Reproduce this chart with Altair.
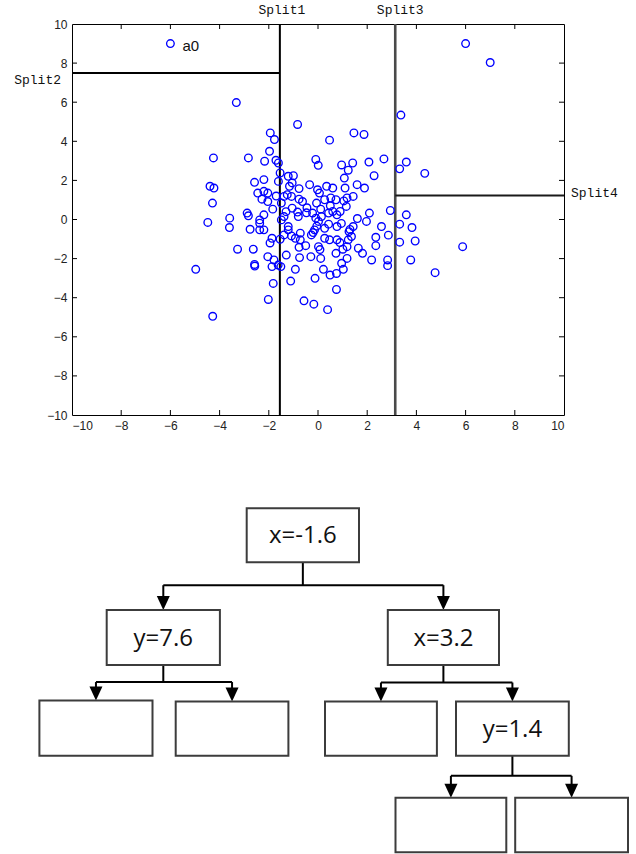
import altair as alt
import pandas as pd

# ---------------- scatter data ----------------
PX = [-6.0, 6.0, 7.0, -3.32, -0.83, 3.37, -1.94, -1.77, 0.47, 1.46, 1.87, -1.97, -4.25, -2.83,
      -2.17, -1.71, -1.61, -0.09, 0.01, 0.96, 1.41, 2.07, 2.68, 3.59, 3.32, 4.34, 2.28, 1.23,
      1.07, -4.39, -4.23, -4.29, -4.48, -3.59, -3.60, -2.88, -2.83, -2.76, -3.27, -2.63, -2.58,
      -2.57, -4.97, -4.28, -2.02, -1.82, -1.11, -0.57, -0.17, 0.39, -0.12, 0.49, 0.75, 0.75,
      1.03, 0.22, -0.92, 0.96, 0.73, 1.18, -0.29, 0.11, -0.75, -1.29, -2.04, -1.79, -1.62,
      -1.87, -1.51, 2.18, 2.83, 2.83, 3.77, 4.76, 5.88, 3.32, 3.95, 3.82, 3.32, 3.59, 2.94,
      2.86, 2.58, 2.35, 2.35, 2.09, 1.97, 1.81, 1.64, 1.43, 1.26, 1.36, 1.23, 1.18, 1.01,
      1.89, 1.59, 1.43, 1.15, 1.18, 1.10, 0.60, 0.35, -0.02, 0.06, -0.34, -0.77, -0.77, -1.00,
      -1.21, -1.16, -1.05, -1.54, -1.61, -2.20, -2.58, -2.45, -2.20, -2.04, -2.28, -2.04,
      -1.84, -1.49, -1.38, -1.25, -1.08, -1.05, -0.83, -0.63, -0.80, -1.38, -1.49, -2.37,
      -2.37, -2.20, -2.37, -2.20, -1.21, -1.21, -1.87, -1.54, -1.38, -1.08, -0.92, -0.72,
      -0.72, -0.77, -0.27, -0.14, -0.22, -0.09, 0.02, 0.11, 0.14, -0.06, 0.27, 0.52, 0.73,
      0.43, 0.60, 0.77, 0.90, 0.27, 0.43, 0.77, 0.27, 0.47, 0.77, 0.02, -0.50, -0.47, 1.30,
      -0.05, -0.20, 0.89, 0.08, -1.70, -1.30, 0.95, 1.60, -0.45, 0.50, -1.95, 1.05]
PY = [9.0, 9.0, 8.03, 5.98, 4.86, 5.34, 4.43, 4.09, 4.06, 4.43, 4.35, 3.49, 3.15, 3.15,
      2.98, 3.03, 2.89, 3.07, 2.77, 2.79, 2.89, 2.94, 3.10, 2.94, 2.59, 2.36, 2.24, 2.52,
      2.12, 1.70, 1.61, 0.84, -0.15, 0.07, -0.41, 0.33, 0.19, -0.50, -1.52, -1.52, -2.30,
      -2.38, -2.55, -4.95, -4.09, -3.27, -3.15, -4.16, -4.33, -4.61, -3.01, -2.84, -3.58, -2.76,
      -2.55, -2.55, -2.55, -2.24, -1.73, -1.99, -1.90, -1.99, -1.95, -1.82, -1.90, -2.07, -2.33,
      -2.41, -2.41, -2.07, -2.07, -2.36, -2.07, -2.72, -1.39, -1.16, -1.10, -0.41, -0.24, 0.24, 0.46,
      -0.80, -0.36, -0.91, -1.34, 0.33, -0.10, -1.73, -1.47, -0.36, -0.62, -0.87, -1.04, -1.39, -1.52,
      1.61, 1.78, 1.18, 0.67, 1.10, 1.61, 1.61, 1.70, 1.52, 1.35, 1.78, 1.58, 1.04, 2.24,
      2.21, 1.70, 1.87, 2.38, 1.95, 2.04, 1.90, 1.35, 1.44, 1.35, 1.04, 0.92,
      0.53, 0.84, 1.18, 1.27, 1.18, 0.58, 0.38, 0.92, 0.15, 0.15, -0.02, -0.02,
      -0.19, -0.53, -0.53, 0.24, -0.36, -0.53, -0.96, -1.01, -0.79, -0.84, -0.96, -0.70,
      -1.04, -1.42, -0.79, -0.53, 0.33, 0.07, -0.10, 0.53, 0.15, 0.84, 1.01, 1.10, 1.01,
      0.33, 0.41, 0.24, 0.41, -0.45, -0.24, -0.36, -0.96, -1.04, -1.04, -1.39, -1.34, 0.34, -0.51,
      -0.34, -0.67, -1.18, -1.54, 1.20, 0.40, -0.20, 0.05, 0.60, 0.70, -1.20, 0.95]

AXIS_VALUES = [-10, -8, -6, -4, -2, 0, 2, 4, 6, 8, 10]
INNER_TICKS = [-8, -6, -4, -2, 0, 2, 4, 6, 8]

SPLIT_NAMES = ["Split1", "Split2", "Split3", "Split4"]
SPLIT_X1 = [-1.55, -10.0, 3.14, 3.14]
SPLIT_X2 = [-1.55, -1.55, 3.14, 10.0]
SPLIT_Y1 = [-10.0, 7.49, -10.0, 1.23]
SPLIT_Y2 = [10.0, 7.49, 10.0, 1.23]

POINT_LABEL = "a0"
POINT_LABEL_AT = (-6.0, 9.0)

# ---------------- tree data (diagram coordinates) ----------------
NODE_ID = ["root", "n1", "n2", "l1", "l2", "l3", "n3", "l4", "l5"]
NODE_LABEL = ["x=-1.6", "y=7.6", "x=3.2", "", "", "", "y=1.4", "", ""]
NODE_PARENT = ["", "root", "root", "n1", "n1", "n2", "n2", "n3", "n3"]
NODE_X0 = [246.7, 106.7, 387.8, 39.4, 175.7, 325.0, 456.0, 395.5, 515.2]
NODE_X1 = [359.0, 219.9, 499.0, 152.5, 288.4, 436.9, 568.8, 506.3, 628.0]
NODE_Y0 = [508.3, 610.0, 610.0, 700.5, 701.5, 701.5, 701.5, 797.7, 797.7]
NODE_Y1 = [562.3, 665.0, 665.0, 755.7, 755.7, 755.7, 755.7, 852.3, 852.3]

# ---------------- layout constants ----------------
PAGE_W, PAGE_H = 636, 854
PLOT_LEFT, PLOT_TOP, PLOT_W, PLOT_H = 72, 24, 492, 391
TICK_PX = 5
ARROW_H = 14

# ---------------- scatter layers ----------------
xs = alt.Scale(domain=[-10, 10], nice=False, zero=False)
ys = alt.Scale(domain=[-10, 10], nice=False, zero=False)
axis_style = dict(values=AXIS_VALUES, ticks=False, domain=False, grid=False,
                  labelFont="Liberation Sans", labelFontSize=12, labelColor="#222",
                  labelPadding=5, title=None, labelOverlap=False, labelBound=False)
X = lambda f: alt.X(f, scale=xs, axis=alt.Axis(**axis_style))
Y = lambda f: alt.Y(f, scale=ys, axis=alt.Axis(**axis_style))

pts = pd.DataFrame({"x": PX, "y": PY})
points = alt.Chart(pts).mark_point(
    shape="circle", filled=False, size=58, stroke="#0000ff", strokeWidth=1.35, opacity=1
).encode(x=X("x:Q"), y=Y("y:Q"))

dx_tick = TICK_PX * 20 / PLOT_W
dy_tick = TICK_PX * 20 / PLOT_H
tick_rows = []
for t in INNER_TICKS:
    tick_rows.append({"x": t, "x2": t, "y": -10, "y2": -10 + dy_tick})
    tick_rows.append({"x": t, "x2": t, "y": 10, "y2": 10 - dy_tick})
    tick_rows.append({"x": -10, "x2": -10 + dx_tick, "y": t, "y2": t})
    tick_rows.append({"x": 10, "x2": 10 - dx_tick, "y": t, "y2": t})
ticks = alt.Chart(pd.DataFrame(tick_rows)).mark_rule(color="black", strokeWidth=1).encode(
    x=X("x:Q"), x2="x2:Q", y=Y("y:Q"), y2="y2:Q"
)

splits_df = pd.DataFrame({"name": SPLIT_NAMES, "x": SPLIT_X1, "x2": SPLIT_X2,
                          "y": SPLIT_Y1, "y2": SPLIT_Y2,
                          "color": ["#000000", "#000000", "#4a4a4a", "#1a1a1a"],
                          "w": [2.0, 2.0, 2.6, 2.0]})
split_lines = alt.Chart(splits_df).mark_rule().encode(
    x=X("x:Q"), x2="x2:Q", y=Y("y:Q"), y2="y2:Q",
    color=alt.Color("color:N", scale=None), strokeWidth=alt.StrokeWidth("w:Q", scale=None)
)

lab_font = dict(font="Liberation Mono", fontSize=13, color="#111")
s1 = alt.Chart(splits_df.iloc[[0]]).mark_text(align="center", baseline="alphabetic", dx=2, **lab_font).encode(
    x=X("x:Q"), y=alt.value(-10), text="name:N")
s3 = alt.Chart(splits_df.iloc[[2]]).mark_text(align="center", baseline="alphabetic", dx=5, **lab_font).encode(
    x=X("x:Q"), y=alt.value(-10), text="name:N")
s2 = alt.Chart(splits_df.iloc[[1]]).mark_text(align="right", baseline="middle", dx=-11, dy=7, **lab_font).encode(
    x=X("x:Q"), y=Y("y:Q"), text="name:N")
s4 = alt.Chart(splits_df.iloc[[3]]).mark_text(align="left", baseline="middle", dx=7, dy=-2, **lab_font).encode(
    x=X("x2:Q"), y=Y("y:Q"), text="name:N")

a0 = alt.Chart(pd.DataFrame({"x": [POINT_LABEL_AT[0]], "y": [POINT_LABEL_AT[1]], "t": [POINT_LABEL]})).mark_text(
    align="left", baseline="middle", dx=12, dy=2, font="Liberation Sans", fontSize=15, color="#111"
).encode(x=X("x:Q"), y=Y("y:Q"), text="t:N")

scatter = alt.layer(split_lines, ticks, points, s1, s2, s3, s4, a0)

# ---------------- tree layers ----------------
tx = alt.Scale(domain=[0, PAGE_W], range=[-PLOT_LEFT, PAGE_W - PLOT_LEFT], nice=False, zero=False)
ty = alt.Scale(domain=[0, PAGE_H], range=[-PLOT_TOP, PAGE_H - PLOT_TOP], nice=False, zero=False)

nodes = pd.DataFrame({"id": NODE_ID, "label": NODE_LABEL, "parent": NODE_PARENT,
                      "x0": NODE_X0, "x1": NODE_X1, "y0": NODE_Y0, "y1": NODE_Y1})
nodes["cx"] = (nodes.x0 + nodes.x1) / 2
nodes["cy"] = (nodes.y0 + nodes.y1) / 2

seg_rows, arrow_rows = [], []
for pid in NODE_ID:
    kids = nodes[nodes.parent == pid]
    if kids.empty:
        continue
    p = nodes[nodes.id == pid].iloc[0]
    top = kids.y0.min()
    bar = p.y1 + 0.48 * (top - p.y1)
    seg_rows.append({"x": p.cx, "x2": p.cx, "y": p.y1, "y2": bar})
    seg_rows.append({"x": kids.cx.min(), "x2": kids.cx.max(), "y": bar, "y2": bar})
    for _, k in kids.iterrows():
        seg_rows.append({"x": k.cx, "x2": k.cx, "y": bar, "y2": k.y0 - ARROW_H / 2})
        arrow_rows.append({"x": k.cx, "y": k.y0 - ARROW_H / 2})

enc_t = dict(x=alt.X("x:Q", scale=tx, axis=None), y=alt.Y("y:Q", scale=ty, axis=None))

segs = alt.Chart(pd.DataFrame(seg_rows)).mark_rule(color="#000", strokeWidth=2).encode(
    x2="x2:Q", y2="y2:Q", **enc_t)
arrows = alt.Chart(pd.DataFrame(arrow_rows)).mark_point(
    shape="M-1,-1.08L1,-1.08L0,1.08Z", filled=True, size=169, color="#000", opacity=1, strokeWidth=0
).encode(**enc_t)
boxes = alt.Chart(nodes).mark_rect(fill="white", stroke="#3c3c3c", strokeWidth=2).encode(
    x=alt.X("x0:Q", scale=tx, axis=None), x2="x1:Q",
    y=alt.Y("y0:Q", scale=ty, axis=None), y2="y1:Q")
texts = alt.Chart(nodes).mark_text(font="Open Sans", fontSize=24, color="#111",
                                   align="center", baseline="middle", dy=1).encode(
    x=alt.X("cx:Q", scale=tx, axis=None), y=alt.Y("cy:Q", scale=ty, axis=None), text="label:N")

tree = alt.layer(segs, arrows, boxes, texts)

chart = alt.layer(scatter, tree).resolve_scale(x="independent", y="independent").properties(
    width=PLOT_W, height=PLOT_H,
    autosize=alt.AutoSizeParams(type="none"),
    padding={"left": PLOT_LEFT, "top": PLOT_TOP,
             "right": PAGE_W - PLOT_LEFT - PLOT_W, "bottom": PAGE_H - PLOT_TOP - PLOT_H},
    background="white",
).configure_view(stroke="black", strokeWidth=1).configure_axis(labelOverlap=False)

chart.save("out.html", embed_options={"renderer": "svg", "actions": False})
